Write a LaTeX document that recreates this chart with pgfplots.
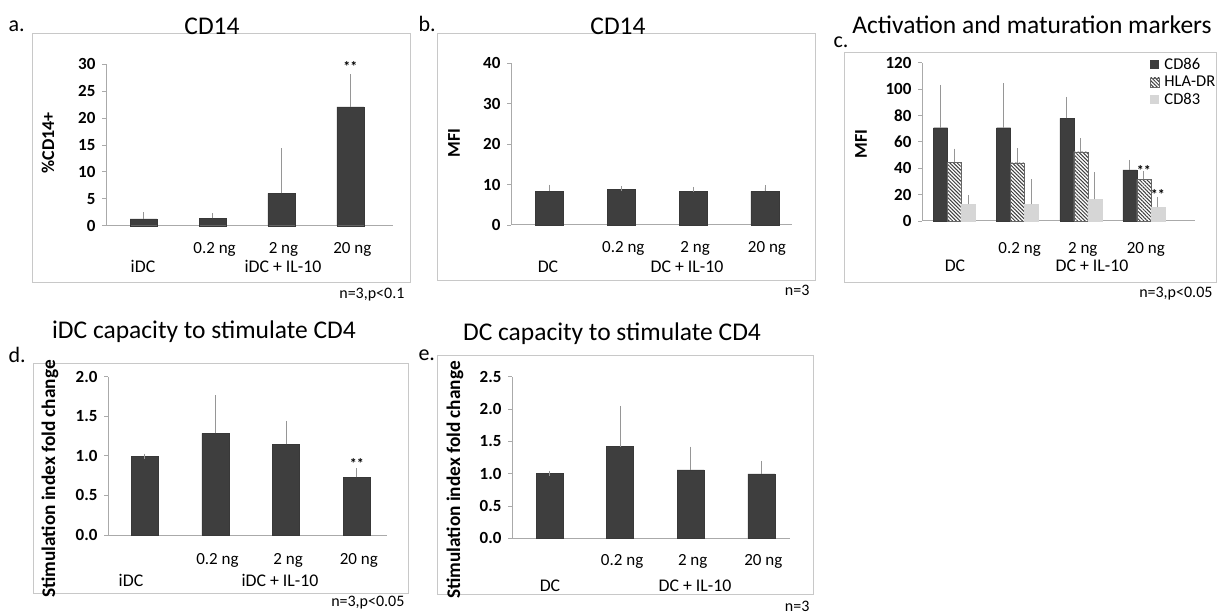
\documentclass[border=0pt]{standalone}
\usepackage{fontspec}
\setmainfont{Carlito}
\usepackage{pgfplots}
\pgfplotsset{compat=1.18}
\usetikzlibrary{patterns.meta}

\definecolor{bardark}{RGB}{62,62,62}
\definecolor{barlight}{RGB}{214,214,214}
\definecolor{errgray}{RGB}{150,150,150}
\definecolor{axgray}{RGB}{170,170,170}
\definecolor{framegray}{RGB}{200,200,200}

\newcommand{\fs}[1]{\fontsize{#1}{#1}\selectfont}

\tikzset{
  darkbar/.style={fill=bardark, draw=bardark!90!black, line width=0.3pt},
  star/.style={font=\fs{14}\bfseries, inner sep=0pt},
  grp/.style={anchor=base, font=\fs{17.8}},
}

\pgfplotsset{
  panel/.style={
    scale only axis,
    anchor=south west,
    axis lines*=left,
    axis line style={axgray, line width=1pt},
    ymin=0,
    xtick={1,2,3},
    xticklabels={0.2 ng, 2 ng, 20 ng},
    major x tick style={draw=none},
    ytick style={axgray, line width=0.8pt},
    tick align=outside,
    major tick length=4pt,
    yticklabel style={font=\fs{17}\bfseries, xshift=-3pt},
    xticklabel style={font=\fs{17}, anchor=base, xshift=2pt},
    /pgf/number format/assume math mode=true,
    ybar,
    clip=false,
    error bars/y dir=plus,
    error bars/y explicit,
    error bars/error bar style={errgray, line width=0.8pt},
    error bars/error mark options={errgray, mark size=2.5pt, line width=0.8pt},
  },
}

\begin{document}
\begin{tikzpicture}[x=1pt,y=1pt]
\useasboundingbox (0,0) rectangle (1218,614);

% ---------------- frames ----------------
\draw[framegray, line width=0.8pt] (32,332) rectangle (410,581);
\draw[framegray, line width=0.8pt] (437,334) rectangle (815,581);
\draw[framegray, line width=0.8pt] (844,332) rectangle (1216.5,562);
\draw[framegray, line width=0.8pt] (33,21) rectangle (408,251);
\draw[framegray, line width=0.8pt] (437,20) rectangle (813,259);

% ---------------- panel a ----------------
\begin{axis}[panel, at={(106pt,388.3pt)}, width=287pt, height=161.4pt,
  xmin=-0.548, xmax=3.62, ymax=30, ytick={0,5,...,30}, bar width=27pt,
  xticklabel style={yshift=-24.3pt}]
\addplot[darkbar] coordinates {(0,1.25) +- (0,0.75) (1,1.35) +- (0,0.5) (2,6.0) +- (0,7.9) (3,22.1) +- (0,5.6)};
\node[star] at (axis cs:3,29.6) {**};
\end{axis}
\node[anchor=base west, font=\fs{22}] at (5,582) {a.};
\node[anchor=base, font=\fs{25.5}] at (212,579) {CD14};
\node[grp] at (143,341) {iDC};
\node[grp] at (283,341) {iDC + IL-10};
\node[anchor=base east, font=\fs{16}] at (408,316) {n=3,p<0.1};
\node[rotate=90, font=\fs{18}\bfseries] at (48,471) {\%CD14+};

% ---------------- panel b ----------------
\begin{axis}[panel, at={(511pt,389pt)}, width=281pt, height=161.7pt,
  xmin=-0.536, xmax=3.377, ymax=40, ytick={0,10,...,40}, bar width=28pt,
  xticklabel style={yshift=-23.3pt}]
\addplot[darkbar] coordinates {(0,8.4) +- (0,1.0) (1,8.8) +- (0,0.15) (2,8.25) +- (0,0.55) (3,8.3) +- (0,0.9)};
\end{axis}
\node[anchor=base west, font=\fs{22}] at (415,582) {b.};
\node[anchor=base, font=\fs{25.5}] at (618,579) {CD14};
\node[grp] at (548,341.3) {DC};
\node[grp] at (687,341.3) {DC + IL-10};
\node[anchor=base east, font=\fs{16}] at (813,318) {n=3};
\node[rotate=90, font=\fs{18}\bfseries] at (454,471) {MFI};

% ---------------- panel c ----------------
\begin{axis}[panel, at={(922pt,393pt)}, width=273pt, height=158.3pt,
  xmin=-0.515, xmax=3.81, ymax=120, ytick={0,20,...,120}, bar width=14pt, ybar=0pt,
  xticklabel style={yshift=-28pt},
  legend style={at={(axis description cs:0.835,1.04)}, anchor=north west, draw=none, fill=none,
    font=\fs{16.5}, inner sep=0pt, row sep=1pt, column sep=3pt, cells={anchor=west}},
  legend image code/.code={\path[#1, draw=none] (0pt,-4.5pt) rectangle (9pt,4.5pt);}]
\addplot[darkbar] coordinates {(0,70.7) +- (0,30.5) (1,70.7) +- (0,32) (2,77.8) +- (0,14.4) (3,38.7) +- (0,5.8)};
\addlegendentry{CD86}
\addplot[fill=white, draw=bardark!80, line width=0.3pt,
  postaction={pattern={Lines[angle=-45,distance=2.6pt,line width=1pt]}, pattern color=bardark}]
  coordinates {(0,44.5) +- (0,8.5) (1,44.2) +- (0,9.1) (2,52.5) +- (0,8.4) (3,31.6) +- (0,4.5)};
\addlegendentry{HLA-DR}
\addplot[fill=barlight, draw=barlight] coordinates {(0,12.6) +- (0,5.1) (1,12.6) +- (0,17.2) (2,16.4) +- (0,18.5) (3,10.4) +- (0,6.0)};
\addlegendentry{CD83}
\node[star] at (axis cs:3,38.6) {**};
\node[star, xshift=14pt] at (axis cs:3,20.4) {**};
\end{axis}
\node[anchor=base west, font=\fs{22}] at (830,566) {c.};
\node[anchor=base, font=\fs{25.5}] at (1032,580.7) {Activation and maturation markers};
\node[grp] at (955,342.3) {DC};
\node[grp] at (1092,342.3) {DC + IL-10};
\node[anchor=base east, font=\fs{16}] at (1216,316.3) {n=3,p<0.05};
\node[rotate=90, font=\fs{18}\bfseries] at (861,470) {MFI};

% ---------------- panel d ----------------
\begin{axis}[panel, at={(108pt,79pt)}, width=279pt, height=158.3pt,
  xmin=-0.519, xmax=3.427, ymax=2, ytick={0,0.5,...,2}, bar width=27pt,
  yticklabel style={/pgf/number format/.cd, fixed, fixed zerofill, precision=1},
  xticklabel style={yshift=-25pt}]
\addplot[darkbar] coordinates {(0,0.99) +- (0,0.005) (1,1.284) +- (0,0.45) (2,1.145) +- (0,0.265) (3,0.728) +- (0,0.082)};
\node[star] at (axis cs:3,0.9) {**};
\end{axis}
\node[anchor=base west, font=\fs{22}] at (5,252) {d.};
\node[anchor=base, font=\fs{25.5}] at (204,276) {iDC capacity to stimulate CD4};
\node[grp] at (131,27.3) {iDC};
\node[grp] at (280,27.3) {iDC + IL-10};
\node[anchor=base east, font=\fs{16}] at (408,7.3) {n=3,p<0.05};
\node[rotate=90, font=\fs{19.3}\bfseries] at (50,135) {Stimulation index fold change};

% ---------------- panel e ----------------
\begin{axis}[panel, at={(512pt,75.7pt)}, width=278pt, height=161.7pt,
  xmin=-0.531, xmax=3.406, ymax=2.5, ytick={0,0.5,...,2.5}, bar width=27pt,
  yticklabel style={/pgf/number format/.cd, fixed, fixed zerofill, precision=1},
  xticklabel style={yshift=-23.4pt}]
\addplot[darkbar] coordinates {(0,1.0) +- (0,0.005) (1,1.418) +- (0,0.59) (2,1.057) +- (0,0.32) (3,0.995) +- (0,0.165)};
\end{axis}
\node[anchor=base west, font=\fs{22}] at (415,254) {e.};
\node[anchor=base, font=\fs{25.5}] at (612,274) {DC capacity to stimulate CD4};
\node[grp] at (550,23) {DC};
\node[grp] at (695,23) {DC + IL-10};
\node[anchor=base east, font=\fs{16}] at (813,2.3) {n=3};
\node[rotate=90, font=\fs{19.3}\bfseries] at (455,134) {Stimulation index fold change};
\end{tikzpicture}
\end{document}
